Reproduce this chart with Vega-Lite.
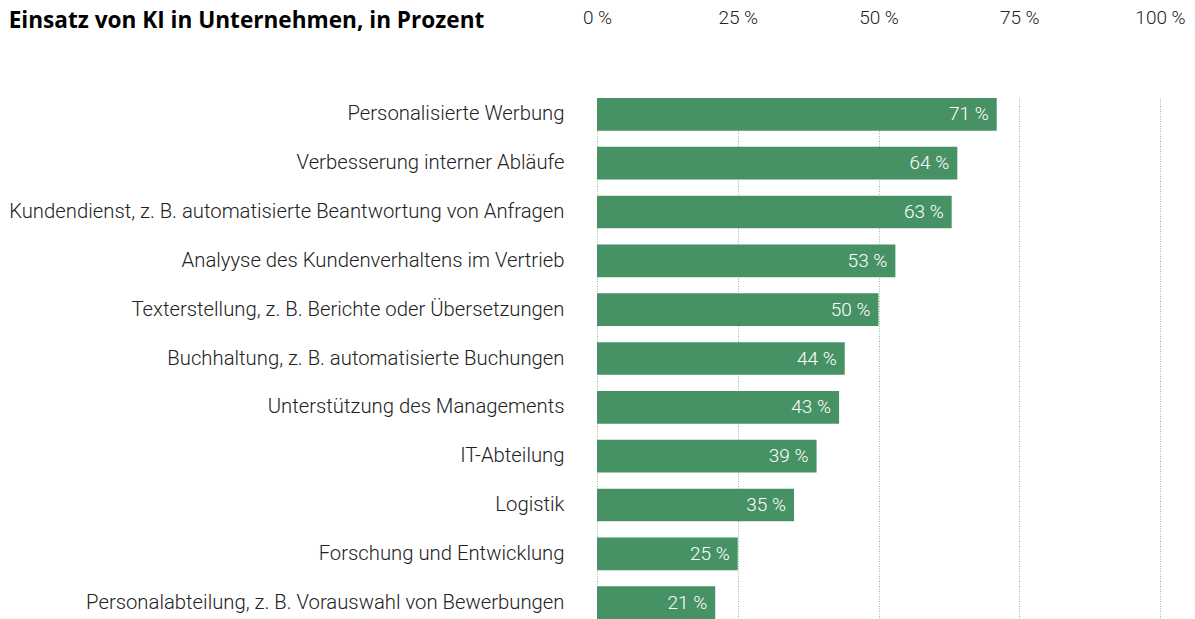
{
  "$schema": "https://vega.github.io/schema/vega-lite/v6.json",
  "width": 563,
  "height": 559,
  "autosize": {"type": "none"},
  "padding": {"left": 597, "top": 60, "right": 35, "bottom": 0},
  "background": "#ffffff",
  "title": {
    "text": "Einsatz von KI in Unternehmen, in Prozent",
    "anchor": "start",
    "frame": "bounds",
    "font": "Open Sans",
    "fontSize": 22.6,
    "fontWeight": "bold",
    "color": "#000000",
    "baseline": "middle",
    "dy": 40
  },
  "config": {"view": {"stroke": null}},
  "data": {
    "values": [
      {"area": "Personalisierte Werbung", "value": 71},
      {"area": "Verbesserung interner Abläufe", "value": 64},
      {"area": "Kundendienst, z. B. automatisierte Beantwortung von Anfragen", "value": 63},
      {"area": "Analyyse des Kundenverhaltens im Vertrieb", "value": 53},
      {"area": "Texterstellung, z. B. Berichte oder Übersetzungen", "value": 50},
      {"area": "Buchhaltung, z. B. automatisierte Buchungen", "value": 44},
      {"area": "Unterstützung des Managements", "value": 43},
      {"area": "IT-Abteilung", "value": 39},
      {"area": "Logistik", "value": 35},
      {"area": "Forschung und Entwicklung", "value": 25},
      {"area": "Personalabteilung, z. B. Vorauswahl von Bewerbungen", "value": 21}
    ]
  },
  "transform": [{"calculate": "datum.value + ' %'", "as": "label"}],
  "encoding": {
    "y": {
      "field": "area",
      "type": "nominal",
      "sort": null,
      "scale": {"range": [38, 559], "paddingInner": 0.33, "paddingOuter": 0},
      "axis": {
        "title": null,
        "domain": false,
        "ticks": false,
        "labelPadding": 33,
        "labelFont": "Roboto",
        "labelFontWeight": 300,
        "labelFontSize": 20.3,
        "labelColor": "#222222",
        "labelLimit": 700
      }
    }
  },
  "layer": [
    {
      "mark": {"type": "bar", "color": "#479264"},
      "encoding": {
        "x": {
          "field": "value",
          "type": "quantitative",
          "scale": {"domain": [0, 100]},
          "axis": {
            "orient": "top",
            "title": null,
            "values": [0, 25, 50, 75, 100],
            "labelExpr": "datum.value + ' %'",
            "labelFlush": false,
            "domain": false,
            "ticks": false,
            "labelPadding": 33,
            "labelFont": "Roboto",
            "labelFontWeight": 300,
            "labelFontSize": 19,
            "labelColor": "#222222",
            "grid": true,
            "gridColor": "#8cbf9e",
            "gridDash": [1, 1.5],
            "gridWidth": 1
          }
        }
      }
    },
    {
      "mark": {"type": "text", "align": "right", "baseline": "middle", "dx": -8, "font": "Roboto", "fontWeight": 300, "fontSize": 19, "color": "#ffffff"},
      "encoding": {
        "x": {"field": "value", "type": "quantitative"},
        "text": {"field": "label"}
      }
    }
  ]
}
